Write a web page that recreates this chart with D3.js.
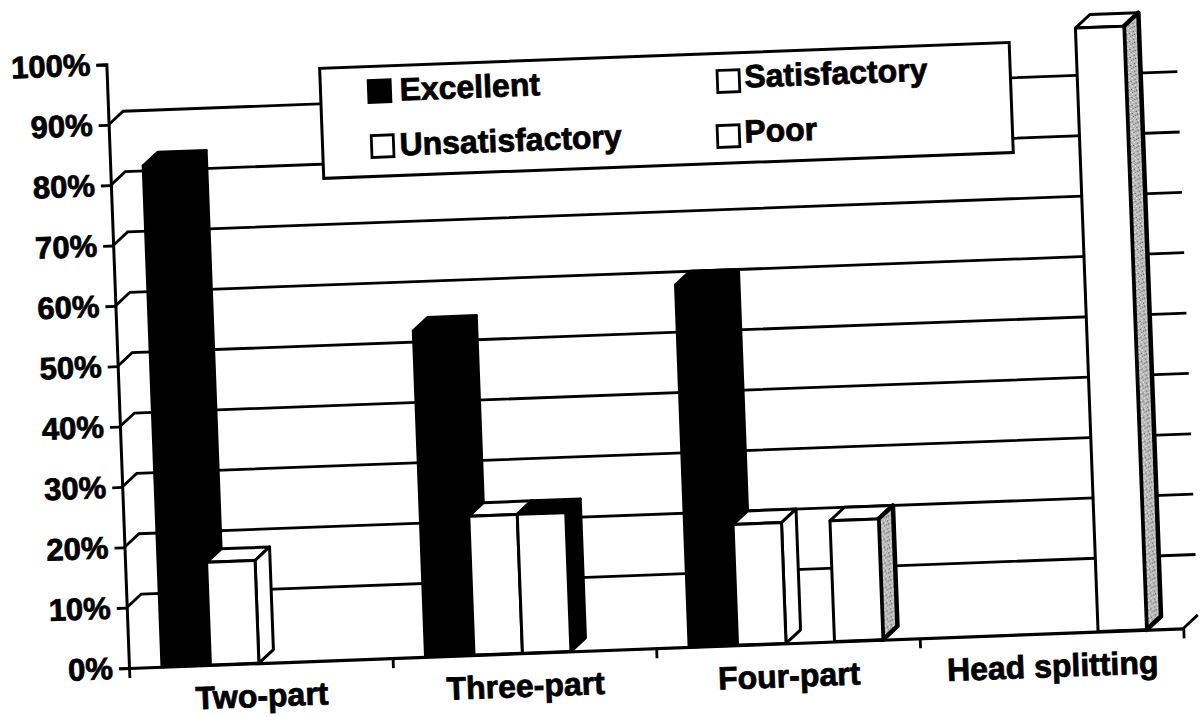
<!DOCTYPE html>
<html><head><meta charset="utf-8">
<script src="https://d3js.org/d3.v7.min.js"></script>
<style>
html,body{margin:0;padding:0;background:#fff}
svg{display:block}
text{font-family:"Liberation Sans",Arial,sans-serif;font-weight:700;font-size:32px;fill:#000;stroke:#000;stroke-width:.8px}
</style></head><body><svg id="c" width="1200" height="717"></svg>
<script>
const categories=["Two-part","Three-part","Four-part","Head splitting"];
const seriesNames=["Excellent","Satisfactory","Unsatisfactory","Poor"];
const excellent=[83,54,60,0];
const satisfactory=[17,23,20,0];
const unsatisfactory=[0,23,0,0];
const poor=[0,0,20,100];
const yTicks=[0,10,20,30,40,50,60,70,80,90,100];
const gridValues=[10,20,30,40,50,60,70,80,90];
const seriesValues=[excellent,satisfactory,unsatisfactory,poor];
const seriesFills=[
 {front:"#000",side:"#000",top:"#000"},
 {front:"#fff",side:"#fff",top:"#fff"},
 {front:"#fff",side:"#000",top:"#000"},
 {front:"#fff",side:"url(#stipple)",top:"#fff"}];
const legendCells=[[261,578,292,557],[610,575,637,557],[262,523,290,502],[608,520,635,502]];

const W=1055,H=604,DX=15,DY=-13;
const svg=d3.select("#c");
const defs=svg.append("defs");
const pat=defs.append("pattern").attr("id","stipple").attr("width",8).attr("height",8).attr("patternUnits","userSpaceOnUse");
pat.append("rect").attr("width",8).attr("height",8).attr("fill","#b8b8b8");
[[0,0,"#fff"],[3,1,"#555"],[1,3,"#eee"],[4,4,"#444"],[5,2,"#fff"],[2,5,"#666"],[6,6,"#fff"],[7,3,"#555"],[0,6,"#777"],[3,7,"#eee"]].forEach(d=>
 pat.append("rect").attr("x",d[0]).attr("y",d[1]).attr("width",1).attr("height",1).attr("fill",d[2]));

const g=svg.append("g").attr("transform","translate(129,668) rotate(-2.15)");
const y=d3.scaleLinear().domain([0,100]).range([0,-H]);
const x0=d3.scaleBand().domain(categories).range([0,W]);
const x1=d3.scaleBand().domain(seriesNames).range([33,227]);
const xEdges=d3.scaleLinear().domain([0,categories.length]).range([0,W]);

// back wall gridlines with their slanted connectors
const line=d3.line();
g.append("g").selectAll("path").data(gridValues).join("path")
 .attr("d",v=>line([[0,y(v)],[DX,y(v)+DY],[W+DX,y(v)+DY]]))
 .attr("fill","none").attr("stroke","#000").attr("stroke-width",2.8);
g.append("path").attr("d",line([[W,0],[W+DX,DY]])).attr("fill","none").attr("stroke","#000").attr("stroke-width",2.8);

// bars
categories.forEach((cat,ci)=>{
 seriesNames.forEach((s,si)=>{
  const v=seriesValues[si][ci];
  if(!v) return;
  const l=x0(cat)+x1(s), r=l+x1.bandwidth(), t=y(v), b=y(0), f=seriesFills[si];
  const bar=g.append("g").attr("stroke","#000").attr("stroke-width",3).attr("stroke-linejoin","round");
  bar.append("path").attr("fill",f.top).attr("d",line([[l,t],[l+DX,t+DY],[r+DX,t+DY],[r,t]])+"Z");
  bar.append("path").attr("fill",f.side).attr("stroke-width",si===3?4.5:3).attr("d",line([[r,t],[r+DX,t+DY],[r+DX,b+DY],[r,b]])+"Z");
  bar.append("path").attr("fill",f.front).attr("d",line([[l,t],[r,t],[r,b],[l,b]])+"Z");
 });
});

// axes
const yAxis=g.append("g").call(d3.axisLeft(y).tickValues(yTicks).tickSize(10).tickPadding(6).tickFormat(d=>d+"%"));
yAxis.select(".domain").attr("stroke-width",3);
yAxis.selectAll("line").attr("stroke-width",2.8);
const xTickAxis=g.append("g").call(d3.axisBottom(xEdges).tickValues(d3.range(categories.length+1)).tickSize(10).tickSizeOuter(0).tickFormat(""));
xTickAxis.select(".domain").attr("stroke-width",3.2);
xTickAxis.selectAll("line").attr("stroke-width",2.8);
const xLabels=g.append("g").call(d3.axisBottom(x0).tickSize(0).tickPadding(21));
xLabels.select(".domain").remove();
g.selectAll(".tick text").style("font-family",'"Liberation Sans",Arial,sans-serif').style("font-size","32px");
yAxis.selectAll(".tick text").style("font-size","31px");

// legend
g.append("rect").attr("x",213).attr("y",-592).attr("width",690).attr("height",110)
 .attr("fill","#fff").attr("stroke","#000").attr("stroke-width",3);
seriesNames.forEach((s,i)=>{
 const c=legendCells[i];
 g.append("rect").attr("x",c[0]).attr("y",-c[1]).attr("width",22).attr("height",22)
  .attr("fill",i===0?"#000":"#fff").attr("stroke","#000").attr("stroke-width",2.8);
 g.append("text").attr("x",c[2]).attr("y",-c[3]).text(s);
});
</script></body></html>
